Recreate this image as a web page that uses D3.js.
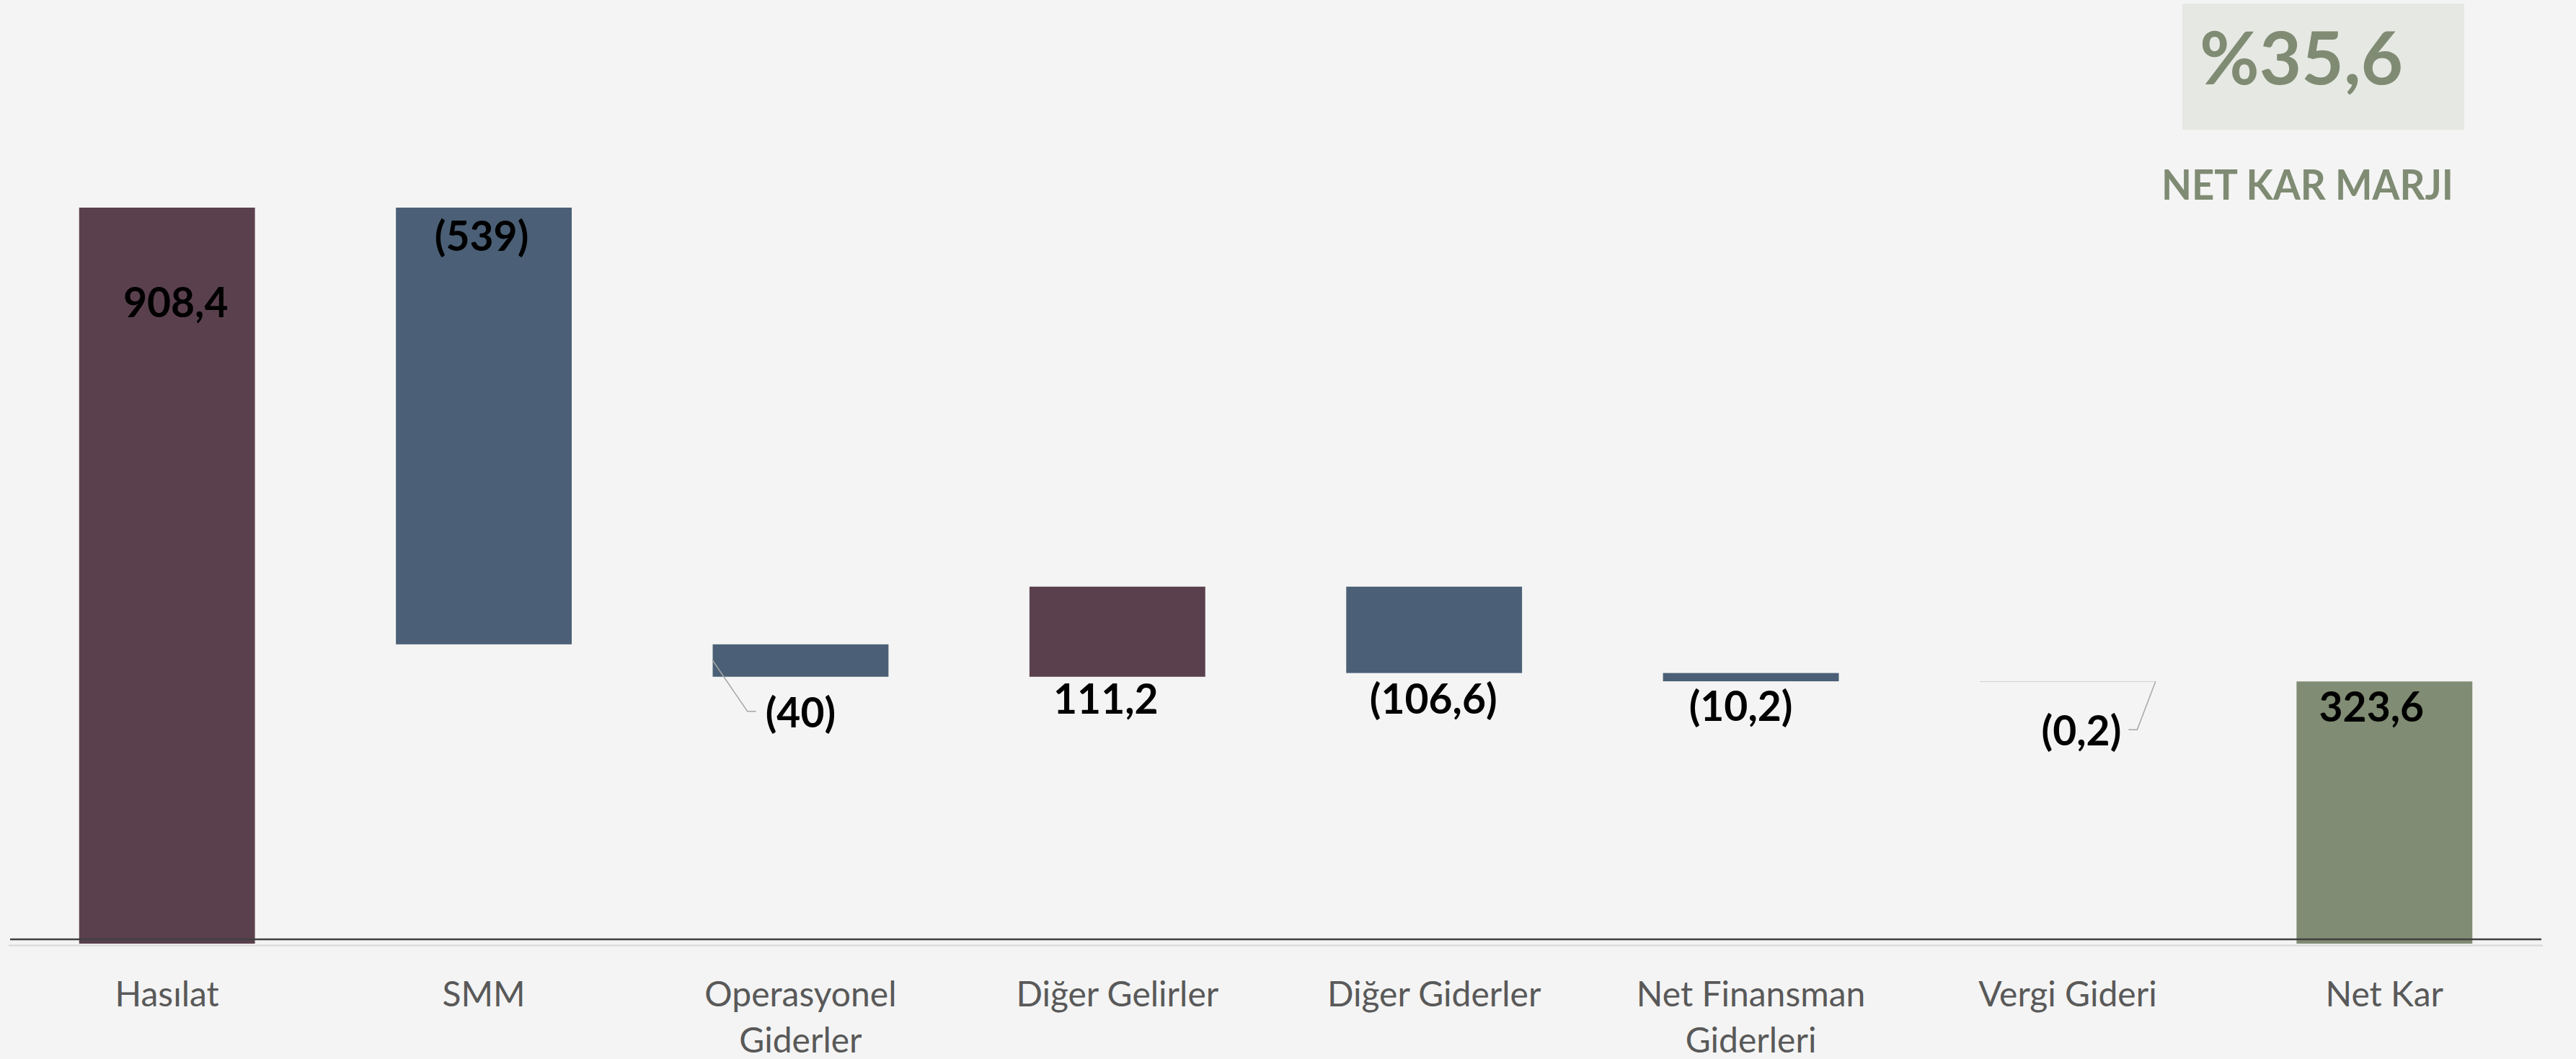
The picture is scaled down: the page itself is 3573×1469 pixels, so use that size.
<!DOCTYPE html>
<html><head><meta charset="utf-8">
<script src="https://cdn.jsdelivr.net/npm/d3@7"></script>
<style>html,body{margin:0;padding:0;background:#F4F4F4;} svg{display:block}</style>
</head><body>
<svg id="chart" width="3573" height="1469"></svg>
<script>
// ---------- DATA ----------
const categories = ["Hasılat","SMM","Operasyonel Giderler","Diğer Gelirler","Diğer Giderler","Net Finansman Giderleri","Vergi Gideri","Net Kar"];
const values = [908.4, -539, -40, 111.2, -106.6, -10.2, -0.2, 323.6];
const kinds = ["increase","decrease","decrease","increase","decrease","decrease","decrease","total"];
const valueLabels = ["908,4","(539)","(40)","111,2","(106,6)","(10,2)","(0,2)","323,6"];
const marginValue = "%35,6";
const marginTitle = "NET KAR MARJI";

// ---------- LAYOUT / STYLE ----------
const W = 3573, H = 1469;
const colors = {increase:"#5A404D", decrease:"#4B6076", total:"#808C73"};
const font = "Lato, 'Open Sans', sans-serif";
const labelPlacement = [
  {ref:"top", dx:12, dy:152},
  {ref:"top", dx:-3, dy:60},
  {ref:"bottom", dx:0, dy:70, leader:"left"},
  {ref:"bottom", dx:-16, dy:51},
  {ref:"bottom", dx:-1, dy:56},
  {ref:"bottom", dx:-14, dy:55},
  {ref:"bottom", dx:19, dy:89, leader:"right"},
  {ref:"top", dx:-18, dy:56}
];

// running totals
let run = 0;
const bars = categories.map((c,i) => {
  let start, end;
  if (kinds[i] === "total") { start = 0; end = values[i]; }
  else { start = run; end = run + values[i]; run = end; }
  return {cat:c, start, end, kind:kinds[i], label:valueLabels[i], i};
});

const svg = d3.select("#chart");
svg.append("rect").attr("width",W).attr("height",H).attr("fill","#F4F4F4");

const x = d3.scaleBand().domain(categories).range([12, 3527]).paddingInner(0.445).paddingOuter(0.2225);
const yMax = d3.max(bars, d => Math.max(d.start, d.end));
const y = d3.scaleLinear().domain([0, yMax]).range([1309, 288]);

// bars
svg.append("g").selectAll("rect").data(bars).join("rect")
  .attr("x", d => x(d.cat))
  .attr("width", x.bandwidth())
  .attr("y", d => y(Math.max(d.start, d.end)))
  .attr("height", d => Math.abs(y(d.start) - y(d.end)))
  .attr("fill", d => colors[d.kind]);

// axis lines
svg.append("line").attr("x1",12).attr("x2",3527).attr("y1",1311.5).attr("y2",1311.5)
  .attr("stroke","#DCDCDC").attr("stroke-width",2.5);
const xAxis = d3.axisBottom(x).tickSize(0).tickPadding(0);
const axisG = svg.append("g").attr("transform","translate(0,1303)").call(xAxis);
axisG.select(".domain").attr("stroke","#404040").attr("stroke-width",2.5).attr("d","M14,0H3525");
axisG.selectAll(".tick text").remove();

// category labels (wrapped)
const catG = svg.append("g").attr("font-family", font).attr("font-size", 48).attr("fill","#595959").attr("text-anchor","middle");
categories.forEach(c => {
  const t = catG.append("text").attr("x", x(c) + x.bandwidth()/2).attr("y", 1396);
  const words = c.split(" ");
  let lines = [], cur = [];
  const tmp = catG.append("text");
  words.forEach(w => {
    const test = cur.concat([w]).join(" ");
    tmp.text(test);
    if (tmp.node().getComputedTextLength() > 410 && cur.length) { lines.push(cur.join(" ")); cur = [w]; }
    else cur.push(w);
  });
  lines.push(cur.join(" "));
  tmp.remove();
  lines.forEach((l, k) => t.append("tspan").attr("x", x(c) + x.bandwidth()/2).attr("dy", k === 0 ? 0 : 64).text(l));
});

// value labels + leaders
const valG = svg.append("g").attr("font-family", font).attr("font-size", 57).attr("font-weight", 700).attr("fill","#000").attr("text-anchor","middle");
bars.forEach(d => {
  const p = labelPlacement[d.i];
  const cx = x(d.cat) + x.bandwidth()/2 + p.dx;
  const refY = p.ref === "top" ? y(Math.max(d.start, d.end)) : y(Math.min(d.start, d.end));
  const ty = refY + p.dy;
  const t = valG.append("text").attr("x", cx).attr("y", ty).text(d.label);
  if (p.leader) {
    const bb = t.node().getBBox();
    const ly = ty - 22;
    let pts;
    if (p.leader === "left") {
      const bx = x(d.cat), by = (y(d.start) + y(d.end)) / 2;
      pts = [[bx, by], [bb.x - 25, ly], [bb.x - 13, ly]];
    } else {
      const bx = x(d.cat) + x.bandwidth(), by = y(Math.min(d.start, d.end));
      pts = [[bx, by], [bb.x + bb.width + 22, ly], [bb.x + bb.width + 10, ly]];
    }
    svg.append("path").attr("d", d3.line()(pts)).attr("fill","none").attr("stroke","#A6A6A6").attr("stroke-width",1.5);
  }
});

// margin box
svg.append("rect").attr("x",3027).attr("y",5).attr("width",391).attr("height",175).attr("fill","#E6E8E3");
svg.append("text").attr("x",3051).attr("y",117).attr("font-family",font).attr("font-weight",700)
  .attr("font-size",101).attr("fill","#7F8B73").text(marginValue);
const mt = svg.append("text").attr("x",2998).attr("y",277).attr("font-family",font).attr("font-weight",700)
  .attr("font-size",57).attr("fill","#7F8B73").text(marginTitle);
mt.attr("textLength", 405).attr("lengthAdjust","spacingAndGlyphs");
</script>
</body></html>
